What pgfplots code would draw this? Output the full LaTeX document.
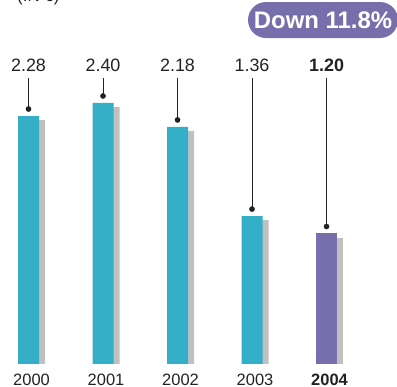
\documentclass[border=0pt]{standalone}
\usepackage{pgfplots}
\pgfplotsset{compat=1.18}
\usepackage{pgfplotstable}
\usepackage{fontspec}
\setmainfont{Liberation Sans}

\definecolor{barcyan}{HTML}{34AFC7}
\definecolor{barshade}{HTML}{C0C0C0}
\definecolor{hipurple}{HTML}{776FAB}
\definecolor{ink}{HTML}{222222}

% v: value, s: top of the drop shadow behind each bar
\pgfplotstableread{
x v s
0 2.28 2.243
1 2.40 2.363
2 2.18 2.143
3 1.36 1.323
}\earlier
\pgfplotstableread{
x v s
4 1.20 1.163
}\latest

\begin{document}
\begin{tikzpicture}
\begin{axis}[
  scale only axis, width=397bp, height=387bp,
  xmin=-0.3826, xmax=4.946, ymin=-0.2115, ymax=3.347,
  axis line style={draw=none}, major tick length=0pt,
  ytick=\empty,
  xtick={0,...,4},
  xticklabels={2000,2001,2002,2003,\textbf{2004}},
  xticklabel style={anchor=base, yshift=2bp, xshift=3bp, inner sep=0pt,
    font=\fontsize{16.5}{19}\selectfont, text=ink},
  clip=false,
]
% shadows, then the bars
\addplot[ybar, bar width=21bp, bar shift=6bp, fill=barshade, draw=none] table[x=x,y=s]{\earlier};
\addplot[ybar, bar width=21bp, bar shift=6bp, fill=barshade, draw=none] table[x=x,y=s]{\latest};
\addplot[ybar, bar width=21bp, bar shift=0bp, fill=barcyan, draw=none] table[x=x,y=v]{\earlier};
\addplot[ybar, bar width=21bp, bar shift=0bp, fill=hipurple, draw=none] table[x=x,y=v]{\latest};

% leader lines from the dots up to the labels
\addplot[ink, line width=1bp, mark=none,
  quiver={u=0, v={2.63-\thisrow{v}},
    every arrow/.append style={shorten <=7bp}}]
  table[x=x,y=v]{\earlier};
\addplot[ink, line width=1bp, mark=none,
  quiver={u=0, v={2.63-\thisrow{v}},
    every arrow/.append style={shorten <=7bp}}]
  table[x=x,y=v]{\latest};

% dots just above each bar
\addplot[only marks, mark=*, mark size=2.6bp, ink, mark options={yshift=7bp}] table[x=x,y=v]{\earlier};
\addplot[only marks, mark=*, mark size=2.6bp, ink, mark options={yshift=7bp}] table[x=x,y=v]{\latest};

% value labels
\addplot[draw=none, mark=none, nodes near coords, point meta=explicit symbolic,
  every node near coord/.append style={anchor=base, inner sep=0pt,
    font=\fontsize{18}{21}\selectfont, text=ink}]
  table[x=x, y expr=2.685, meta=v]{\earlier};
\addplot[draw=none, mark=none, nodes near coords, point meta=explicit symbolic,
  every node near coord/.append style={anchor=base, inner sep=0pt,
    font=\bfseries\fontsize{18}{21}\selectfont, text=ink}]
  table[x=x, y expr=2.685, meta=v]{\latest};

\node[fill=hipurple, text=white, font=\bfseries\fontsize{24}{28}\selectfont,
  rounded corners=18bp, minimum height=36bp, minimum width=150bp, inner sep=0pt]
  at (axis cs:3.953,3.163) {Down 11.8\%};
\node[anchor=base west, inner sep=0pt, font=\fontsize{17}{20}\selectfont, text=ink]
  at (axis cs:-0.154,3.329) {(IN €)};
\end{axis}
\pgfresetboundingbox
\path[use as bounding box] (current axis.south west) rectangle (current axis.north east);
\end{tikzpicture}
\end{document}
